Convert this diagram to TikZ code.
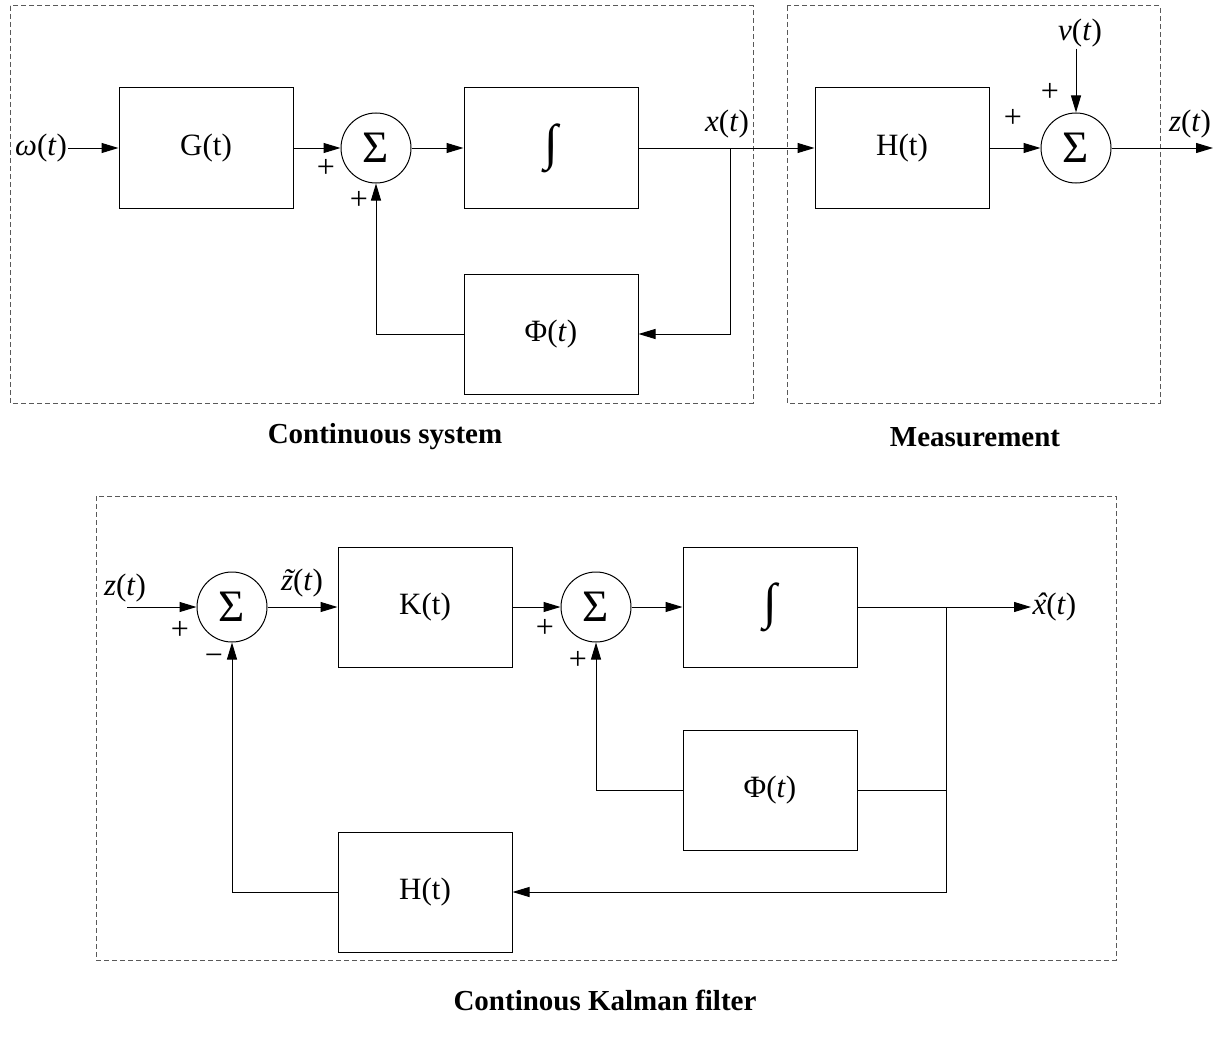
\documentclass[tikz,border=0pt]{standalone}
\usepackage{fontspec}
\setmainfont{Liberation Serif}
\usetikzlibrary{arrows.meta}

\newcommand{\sigt}[1]{\textit{#1}(\textit{t})}
% accent over an italic letter
\newcommand{\topacc}[2]{\ooalign{\textit{#2}\cr\hidewidth\kern0.14em\textit{#1}\hidewidth\cr}}

\begin{document}
\begin{tikzpicture}[x=1pt, y=-1pt, line width=1pt,
    font=\fontsize{29}{34}\selectfont,
    block/.style={draw, minimum width=174pt, minimum height=120pt, inner sep=0pt,
      font=\fontsize{31}{36}\selectfont},
    sumnode/.style={draw, circle, minimum size=70pt, inner sep=0pt,
      font=\fontsize{45}{48}\selectfont},
    intlabel/.style={font=\fontsize{50}{54}\selectfont},
    frame/.style={draw=black!65, dash pattern=on 5pt off 3pt},
    link/.style={-{Triangle[length=17pt, width=10pt]}},
    sig/.style={font=\fontsize{31}{36}\selectfont, inner sep=1pt},
    sign/.style={font=\fontsize{32}{36}\selectfont, inner sep=0pt},
    title/.style={font=\fontsize{29}{34}\selectfont\bfseries}]
  \useasboundingbox (0,0) rectangle (1225,1038);

  % Continuous system
  \draw[frame] (10,6) rectangle (753,403);
  \node[sig] (wt) at (41,148) {\textit{ω}(\textit{t})};
  \node[block] (G) at (206,148) {G(t)};
  \node[sumnode] (s1) at (376,148) {Σ};
  \node[block, intlabel] (int1) at (551,148) {∫};
  \node[block] (phi1) at (551,334) {Φ(\textit{t})};
  \coordinate (x1) at (730,148);
  \node[sig] (xlab) at (727,124) {\sigt{x}};
  \node[sign] (p1) at (326,168) {+};
  \node[sign] (p2) at (359,200) {+};

  \draw[link] (wt) -- (G);
  \draw[link] (G) -- (s1);
  \draw[link] (s1) -- (int1);
  \draw[link] (x1) |- (phi1);
  \draw[link] (phi1) -| (s1);

  % Measurement
  \draw[frame] (787,6) rectangle (1160,403);
  \node[block] (H1) at (902,148) {H(t)};
  \node[sumnode] (s2) at (1076,148) {Σ};
  \node[sig] (vt) at (1080,33) {\sigt{v}};
  \coordinate (zout) at (1213,148);
  \node[sig] (zlab) at (1190,124) {\sigt{z}};
  \node[sign] (p3) at (1050,92) {+};
  \node[sign] (p4) at (1013,118) {+};

  \draw[link] (int1) -- (H1);
  \draw[link] (H1) -- (s2);
  \draw[link] (vt.south -| s2) -- (s2);
  \draw[link] (s2) -- (zout);

  % Continuous Kalman filter
  \draw[frame] (96,496) rectangle (1116,960);
  \coordinate (zin) at (127,607);
  \node[sig] (zlab2) at (125,588) {\sigt{z}};
  \node[sumnode] (s3) at (232,607) {Σ};
  \node[sig] (ztil) at (302,583) {\topacc{˜}{z}(\textit{t})};
  \node[block] (K) at (425,607) {K(t)};
  \node[sumnode] (s4) at (596,607) {Σ};
  \node[block, intlabel] (int2) at (770,607) {∫};
  \coordinate (x2) at (946,607);
  \node[sig, anchor=west] (xhat) at (1031,607) {\topacc{ˆ}{x}(\textit{t})};
  \node[block] (phi2) at (770,790) {Φ(\textit{t})};
  \node[block] (H2) at (425,892) {H(t)};
  \node[sign] (p5) at (180,630) {+};
  \node[sign] (m1) at (214,660) {−};
  \node[sign] (p6) at (545,628) {+};
  \node[sign] (p7) at (578,660) {+};

  \draw[link] (zin) -- (s3);
  \draw[link] (s3) -- (K);
  \draw[link] (K) -- (s4);
  \draw[link] (s4) -- (int2);
  \draw[link] (int2) -- (xhat);
  \draw (x2 |- phi2) -- (phi2);
  \draw[link] (x2) |- (H2);
  \draw[link] (phi2) -| (s4);
  \draw[link] (H2) -| (s3);

  % Titles
  \node[title] (systitle) at (385,437) {Continuous system};
  \node[title] (meastitle) at (975,437) {Measurement};
  \node[title] (kftitle) at (605,1000) {Continous Kalman filter};
\end{tikzpicture}
\end{document}
